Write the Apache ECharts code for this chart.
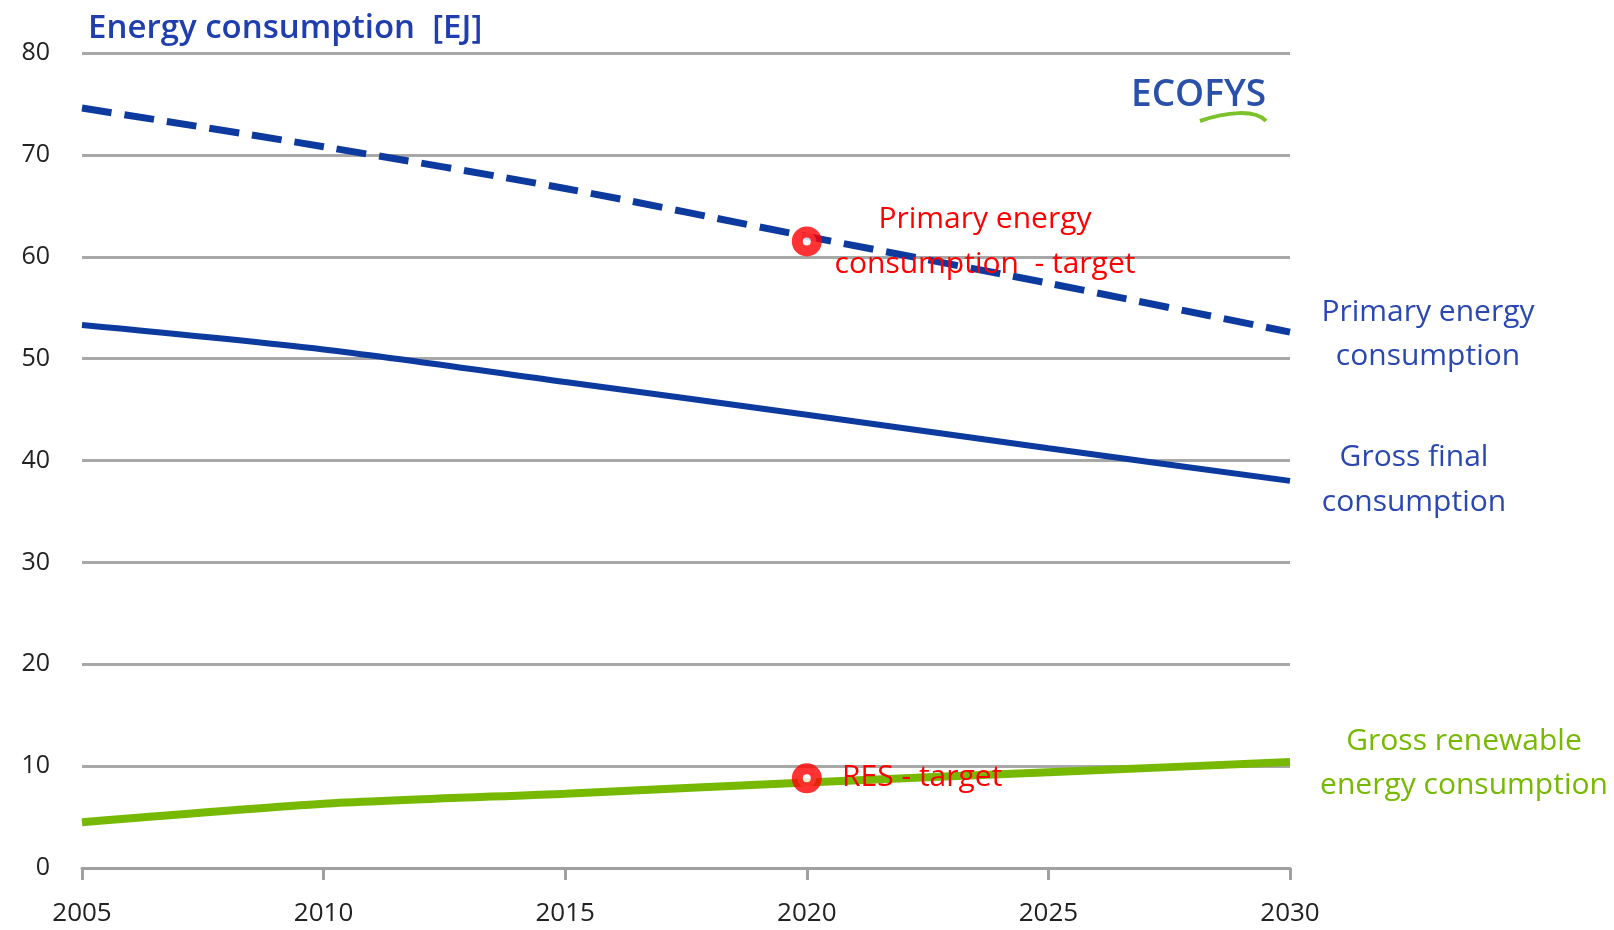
<!DOCTYPE html>
<html>
<head>
<meta charset="utf-8">
<script src="https://cdn.jsdelivr.net/npm/echarts@6/dist/echarts.min.js"></script>
<style>html,body{margin:0;padding:0;background:#fff}#c{width:1614px;height:930px}</style>
</head>
<body>
<div id="c"></div>
<script>
var years = [2005, 2010, 2015, 2020, 2025, 2030];
var primaryEnergy = [74.6, 70.8, 66.7, 62.0, 57.4, 52.6];
var grossFinal = [53.3, 50.9, 47.7, 44.5, 41.2, 38.0];
var grossRenewable = [4.5, 6.3, 7.3, 8.4, 9.4, 10.4];
var targetYears = [2020, 2020];
var targetValues = [61.5, 8.8];
var yTicks = [0, 10, 20, 30, 40, 50, 60, 70, 80];

function pairs(xs, ys) { return xs.map(function (x, i) { return [x, ys[i]]; }); }

var FONT = '"Open Sans", "DejaVu Sans", sans-serif';
var BLUE = '#0d3a9e';
var LBLUE = '#2a48b0';
var GREEN = '#76b900';
var RED = '#ff0000';
var LF = '30px ' + FONT;

var chart = echarts.init(document.getElementById('c'), null, {renderer: 'canvas'});
chart.setOption({
  animation: false,
  grid: {left: 82, right: 324, top: 53, bottom: 62, containLabel: false},
  xAxis: {
    type: 'value', min: 2005, max: 2030, interval: 5,
    axisLine: {show: true, lineStyle: {color: '#a0a0a0', width: 3}},
    axisTick: {show: true, length: 12, lineStyle: {color: '#a0a0a0', width: 3}},
    splitLine: {show: false},
    axisLabel: {margin: 33, fontSize: 26, color: '#222', fontFamily: FONT,
      formatter: function (v) { return String(v); }}
  },
  yAxis: {
    type: 'value', min: yTicks[0], max: yTicks[yTicks.length - 1], interval: 10,
    axisLine: {show: false}, axisTick: {show: false},
    splitLine: {show: true, lineStyle: {color: '#a8a8a8', width: 3}},
    axisLabel: {margin: 32, fontSize: 25, color: '#222', fontFamily: FONT}
  },
  series: [
    {type: 'line', data: pairs(years, primaryEnergy), symbol: 'none', smooth: 0.3,
      lineStyle: {color: BLUE, width: 7, type: [30, 13]}},
    {type: 'line', data: pairs(years, grossFinal), symbol: 'none', smooth: 0.3,
      lineStyle: {color: BLUE, width: 6}},
    {type: 'line', data: pairs(years, grossRenewable), symbol: 'none', smooth: 0.2,
      lineStyle: {color: GREEN, width: 8}},
    {type: 'scatter', data: pairs(targetYears, targetValues), symbol: 'circle', symbolSize: 19,
      itemStyle: {color: '#fff', borderColor: RED, borderWidth: 11}, z: 5}
  ],
  graphic: [
    {type: 'text', left: 88, top: 12, style: {text: 'Energy consumption  [EJ]', font: '600 33px ' + FONT, fill: '#1f3fae'}},
    {type: 'text', left: 1131, top: 77, style: {text: 'ECOFYS', font: '600 37px ' + FONT, fill: '#2a50aa'}},
    {type: 'bezierCurve', shape: {x1: 1200, y1: 121, cpx1: 1226, cpy1: 112, x2: 1266, y2: 121, cpx2: 1255, cpy2: 109},
      style: {stroke: '#7cc22a', lineWidth: 4, fill: null}},
    {type: 'text', x: 985, y: 219, style: {text: 'Primary energy', font: LF, fill: RED, align: 'center', verticalAlign: 'middle'}, z: 10},
    {type: 'text', x: 985, y: 264, style: {text: 'consumption  - target', font: LF, fill: RED, align: 'center', verticalAlign: 'middle'}, z: 10},
    {type: 'text', x: 842, y: 777, style: {text: 'RES - target', font: LF, fill: RED, align: 'left', verticalAlign: 'middle'}, z: 10},
    {type: 'text', x: 1428, y: 312, style: {text: 'Primary energy', font: LF, fill: LBLUE, align: 'center', verticalAlign: 'middle'}},
    {type: 'text', x: 1428, y: 356, style: {text: 'consumption', font: LF, fill: LBLUE, align: 'center', verticalAlign: 'middle'}},
    {type: 'text', x: 1414, y: 457, style: {text: 'Gross final', font: LF, fill: LBLUE, align: 'center', verticalAlign: 'middle'}},
    {type: 'text', x: 1414, y: 502, style: {text: 'consumption', font: LF, fill: LBLUE, align: 'center', verticalAlign: 'middle'}},
    {type: 'text', x: 1464, y: 741, style: {text: 'Gross renewable', font: LF, fill: GREEN, align: 'center', verticalAlign: 'middle'}},
    {type: 'text', x: 1464, y: 785, style: {text: 'energy consumption', font: LF, fill: GREEN, align: 'center', verticalAlign: 'middle'}}
  ]
});
</script>
</body>
</html>
